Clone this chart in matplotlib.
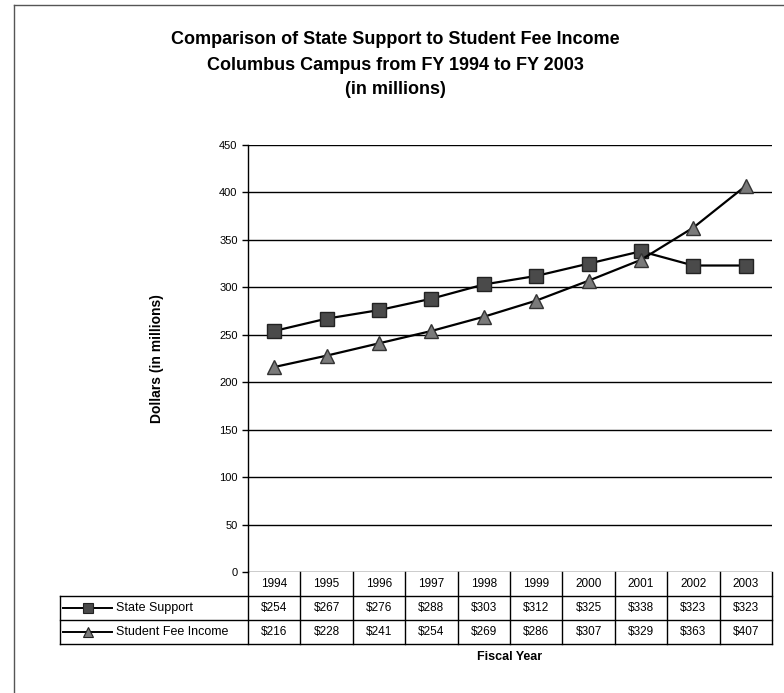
import matplotlib.pyplot as plt
from matplotlib.lines import Line2D

plt.rcParams['font.family'] = ['Liberation Sans', 'DejaVu Sans']

years = ['1994', '1995', '1996', '1997', '1998', '1999', '2000', '2001', '2002', '2003']
state_support = [254, 267, 276, 288, 303, 312, 325, 338, 323, 323]
student_fees = [216, 228, 241, 254, 269, 286, 307, 329, 363, 407]
series_names = ['State Support', 'Student Fee Income']
y_ticks = [0, 50, 100, 150, 200, 250, 300, 350, 400, 450]

W, H = 784, 693
fig = plt.figure(figsize=(W / 100, H / 100), dpi=100)

def fx(px):
    return px / W

def fy(py):
    return 1 - py / H

# plot area in pixels
L, R, T, B = 248, 772, 145, 572
ax = fig.add_axes([fx(L), fy(B), fx(R - L), (B - T) / H])

xs = list(range(len(years)))
ax.plot(xs, state_support, color='black', lw=1.6, marker='s', ms=10,
        mfc='#4a4a4a', mec='#222222', mew=1, zorder=3)
ax.plot(xs, student_fees, color='black', lw=1.6, marker='^', ms=10,
        mfc='#7a7a7a', mec='#333333', mew=1, zorder=3)

ax.set_xlim(-0.5, len(years) - 0.5)
ax.set_ylim(0, 450)
ax.set_yticks(y_ticks)
ax.set_xticks([])
ax.tick_params(axis='y', labelsize=8, length=4, direction='out', width=1)
ax.yaxis.grid(True, color='black', lw=1)
ax.set_axisbelow(True)
for s in ['top', 'right', 'bottom']:
    ax.spines[s].set_visible(False)
ax.spines['left'].set_linewidth(1)
ax.set_ylabel('Dollars (in millions)', fontsize=10, fontweight='bold', labelpad=40)

# data table below the plot
row_h = 24
x0 = 60
col_w = (R - L) / len(years)
tcol = 'black'
for i in range(len(years) + 1):
    xp = L + i * col_w
    fig.add_artist(Line2D([fx(xp), fx(xp)], [fy(B), fy(B + 3 * row_h)], color=tcol, lw=1))
for r in range(1, 4):
    yp = B + r * row_h
    fig.add_artist(Line2D([fx(x0), fx(R)], [fy(yp), fy(yp)], color=tcol, lw=1))
fig.add_artist(Line2D([fx(x0), fx(x0)], [fy(B + row_h), fy(B + 3 * row_h)], color=tcol, lw=1))

for i, yr in enumerate(years):
    cx = fx(L + (i + 0.5) * col_w)
    fig.text(cx, fy(B + row_h / 2), yr, fontsize=8.5, ha='center', va='center')
    fig.text(cx, fy(B + 1.5 * row_h), f'${state_support[i]}',
             fontsize=8.5, ha='center', va='center')
    fig.text(cx, fy(B + 2.5 * row_h), f'${student_fees[i]}',
             fontsize=8.5, ha='center', va='center')

# legend keys in the table
markers = [('s', '#4a4a4a', 7), ('^', '#7a7a7a', 7)]
for r, (name, (mk, fc, ms)) in enumerate(zip(series_names, markers)):
    yp = fy(B + (r + 1.5) * row_h)
    fig.add_artist(Line2D([fx(63), fx(112)], [yp, yp], color='black', lw=1.4))
    fig.add_artist(Line2D([fx(88)], [yp], marker=mk, ms=ms, mfc=fc, mec='#222222',
                          mew=0.8, color='black'))
    fig.text(fx(116), yp, name, fontsize=9, ha='left', va='center')

fig.text(fx(L + (R - L) / 2), fy(657), 'Fiscal Year', fontsize=9,
         fontweight='bold', ha='center', va='center')

# title
title_lines = ['Comparison of State Support to Student Fee Income',
               'Columbus Campus from FY 1994 to FY 2003',
               '(in millions)']
for k, line in enumerate(title_lines):
    fig.text(fx(395), fy(40 + 25 * k), line, fontsize=13, fontweight='bold',
             ha='center', va='center')

# page border lines
fig.add_artist(Line2D([fx(14), fx(14)], [fy(5), fy(693)], color='#555555', lw=1))
fig.add_artist(Line2D([fx(14), fx(784)], [fy(5), fy(5)], color='#555555', lw=1))

fig.savefig('out.png', dpi=100)
